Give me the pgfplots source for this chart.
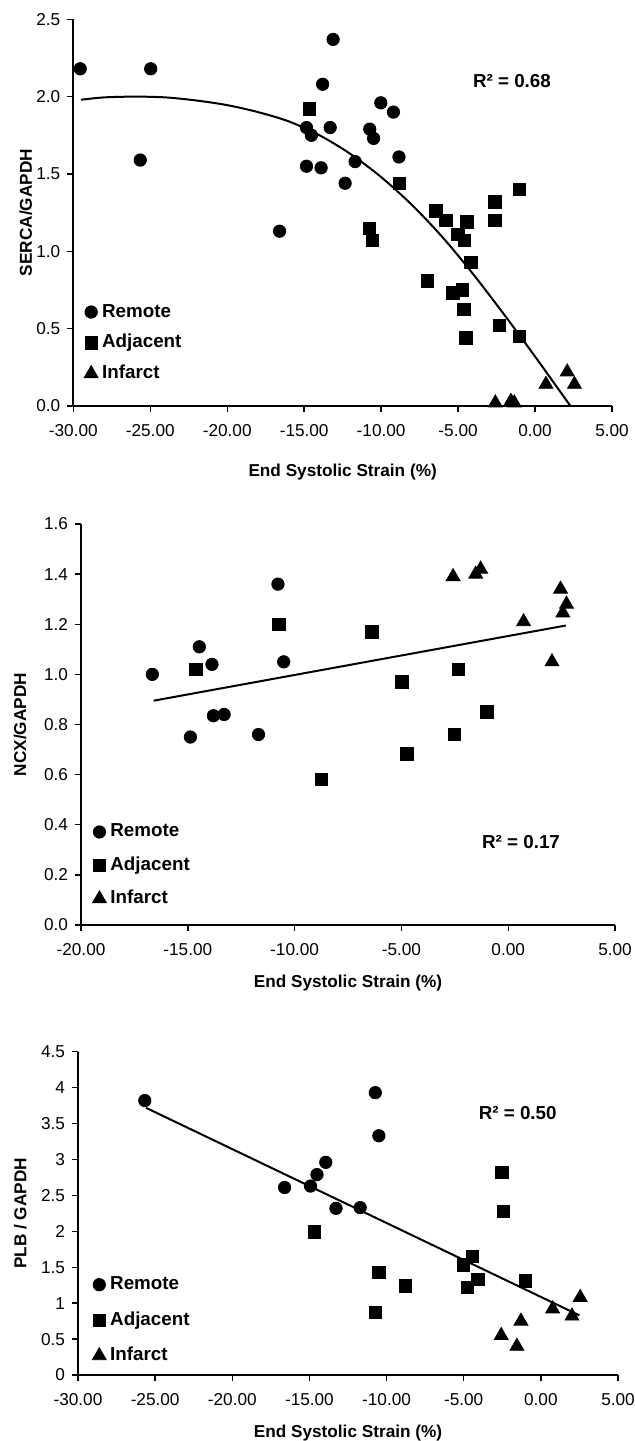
\documentclass[border=0pt]{standalone}
\usepackage{fontspec}
\setmainfont{Liberation Sans}
\usepackage{pgfplots}
\pgfplotsset{compat=1.18}

\pgfplotsset{
  strainaxis/.style={
    scale only axis, anchor=south west,
    axis x line*=bottom, axis y line*=left,
    tick align=outside, major tick length=3pt,
    axis line style={line width=0.8pt},
    every tick/.style={black, line width=0.7pt},
    tick label style={font=\fontsize{8.6}{10}\selectfont},
    /pgf/number format/assume math mode=true,
    xtick distance=5,
    xticklabel style={yshift=-2.5pt, /pgf/number format/.cd, fixed, fixed zerofill, precision=2},
    label style={font=\bfseries\fontsize{8.6}{10}\selectfont},
    clip=false,
    legend cell align=left,
    legend style={draw=none, fill=none, inner sep=0pt, outer sep=0pt,
      font=\bfseries\fontsize{9.4}{11}\selectfont,
      nodes={inner sep=0pt, text height=7.5pt, text depth=2.5pt},
      /tikz/every odd column/.append style={column sep=2pt}},
  },
  legmark/.style={legend image code/.code={\draw[mark repeat=2,mark phase=2,##1] plot coordinates {(0pt,0pt)(3pt,0pt)(6pt,0pt)};}},
  remote/.style={only marks, mark=*, mark size=3.1pt, black, legmark},
  adjacent/.style={only marks, mark=square*, mark size=3.1pt, black, legmark},
  infarct/.style={only marks, mark=triangle*, mark size=4pt, black, legmark},
  trend/.style={black, line width=1pt, no marks, forget plot},
}
\tikzset{rsq/.style={font=\bfseries\fontsize{9.4}{11}\selectfont}}

\begin{document}
\begin{tikzpicture}
\useasboundingbox (0,0) rectangle (317pt,720.5pt);

% SERCA
\begin{axis}[strainaxis,
  at={(36.65pt,517.5pt)}, width=269.35pt, height=193.35pt,
  xmin=-30, xmax=5, ymin=0, ymax=2.5, ytick distance=0.5,
  yticklabel style={/pgf/number format/.cd, fixed, fixed zerofill, precision=1},
  xlabel={End Systolic Strain (\%)}, ylabel={SERCA/GAPDH},
  xlabel style={at={(axis description cs:0.5,0)}, anchor=center, yshift=-33pt},
  ylabel style={at={(axis description cs:-0.088,0.5)}, anchor=center},
  legend style={at={(axis cs:-29.29,0.672)}, anchor=north west, row sep=5.4pt},
]
\addplot[trend, smooth] coordinates {(-29.5,1.98) (-28,1.995) (-26,2.0) (-24,1.995) (-22,1.975) (-20,1.945) (-18,1.90) (-16,1.84) (-14,1.75) (-12,1.63) (-10,1.48) (-8,1.30) (-6,1.09) (-4,0.85) (-2,0.59) (0,0.32) (2.3,0)};
\addplot[remote] coordinates {(-29.55,2.18) (-24.97,2.18) (-25.65,1.59) (-13.12,2.37) (-13.8,2.08) (-14.85,1.80) (-14.53,1.75) (-13.31,1.80) (-14.85,1.55) (-13.9,1.54) (-12.34,1.44) (-11.69,1.58) (-10.02,1.96) (-10.74,1.79) (-10.49,1.73) (-9.2,1.90) (-8.84,1.61) (-16.6,1.13)};
\addplot[adjacent] coordinates {(-14.67,1.92) (-8.81,1.44) (-6.43,1.26) (-5.78,1.20) (-4.42,1.19) (-2.61,1.32) (-2.61,1.20) (-1.02,1.40) (-10.77,1.15) (-10.55,1.07) (-5.02,1.11) (-4.6,1.07) (-4.16,0.93) (-6.98,0.81) (-5.33,0.73) (-4.73,0.75) (-4.63,0.625) (-4.5,0.44) (-2.33,0.52) (-1.02,0.45)};
\addplot[infarct] coordinates {(-2.58,0.02) (-1.57,0.03) (-1.35,0.02) (0.71,0.14) (2.09,0.22) (2.56,0.14)};
\legend{Remote, Adjacent, Infarct}
\node[rsq] at (axis cs:-1.5,2.10) {R² = 0.68};
\end{axis}

% NCX
\begin{axis}[strainaxis,
  at={(40.5pt,258pt)}, width=267pt, height=200.5pt,
  xmin=-20, xmax=5, ymin=0, ymax=1.6, ytick distance=0.2,
  yticklabel style={/pgf/number format/.cd, fixed, fixed zerofill, precision=1},
  xlabel={End Systolic Strain (\%)}, ylabel={NCX/GAPDH},
  xlabel style={at={(axis description cs:0.5,0)}, anchor=center, yshift=-29pt},
  ylabel style={at={(axis description cs:-0.114,0.5)}, anchor=center},
  legend style={at={(axis cs:-19.46,0.411)}, anchor=north west, row sep=6.7pt},
]
\addplot[trend] coordinates {(-16.6,0.895) (2.7,1.195)};
\addplot[remote] coordinates {(-16.66,1.00) (-14.46,1.11) (-13.87,1.04) (-10.78,1.36) (-10.51,1.05) (-13.8,0.835) (-13.3,0.84) (-14.88,0.75) (-11.69,0.76)};
\addplot[adjacent] coordinates {(-14.63,1.02) (-10.74,1.20) (-6.39,1.17) (-4.97,0.97) (-2.33,1.02) (-0.99,0.85) (-8.75,0.58) (-4.74,0.683) (-2.52,0.76)};
\addplot[infarct] coordinates {(-2.58,1.39) (-1.52,1.40) (-1.29,1.42) (0.72,1.21) (2.05,1.05) (2.45,1.34) (2.73,1.28) (2.56,1.245)};
\legend{Remote, Adjacent, Infarct}
\node[rsq] at (axis cs:0.6,0.33) {R² = 0.17};
\end{axis}

% PLB
\begin{axis}[strainaxis,
  at={(39pt,33pt)}, width=270pt, height=161.65pt,
  xmin=-30, xmax=5, ymin=0, ymax=4.5, ytick distance=0.5,
  yticklabel style={/pgf/number format/.cd, fixed, precision=1},
  xlabel={End Systolic Strain (\%)}, ylabel={PLB / GAPDH},
  xlabel style={at={(axis description cs:0.5,0)}, anchor=center, yshift=-29pt},
  ylabel style={at={(axis description cs:-0.107,0.5)}, anchor=center},
  legend style={at={(axis cs:-29.07,1.396)}, anchor=north west, row sep=7.75pt},
]
\addplot[trend] coordinates {(-25.6,3.72) (2.5,0.83)};
\addplot[remote] coordinates {(-25.67,3.82) (-10.73,3.93) (-10.50,3.33) (-13.94,2.96) (-14.51,2.79) (-14.93,2.63) (-16.61,2.61) (-13.28,2.32) (-11.71,2.33)};
\addplot[adjacent] coordinates {(-2.52,2.82) (-2.44,2.28) (-14.67,1.99) (-10.5,1.43) (-8.77,1.24) (-10.71,0.87) (-5.01,1.53) (-4.43,1.65) (-4.75,1.22) (-4.09,1.33) (-1.02,1.31)};
\addplot[infarct] coordinates {(-2.57,0.55) (-1.55,0.40) (-1.29,0.75) (0.76,0.92) (2.02,0.82) (2.55,1.08)};
\legend{Remote, Adjacent, Infarct}
\node[rsq] at (axis cs:-1.5,3.65) {R² = 0.50};
\end{axis}
\end{tikzpicture}
\end{document}
